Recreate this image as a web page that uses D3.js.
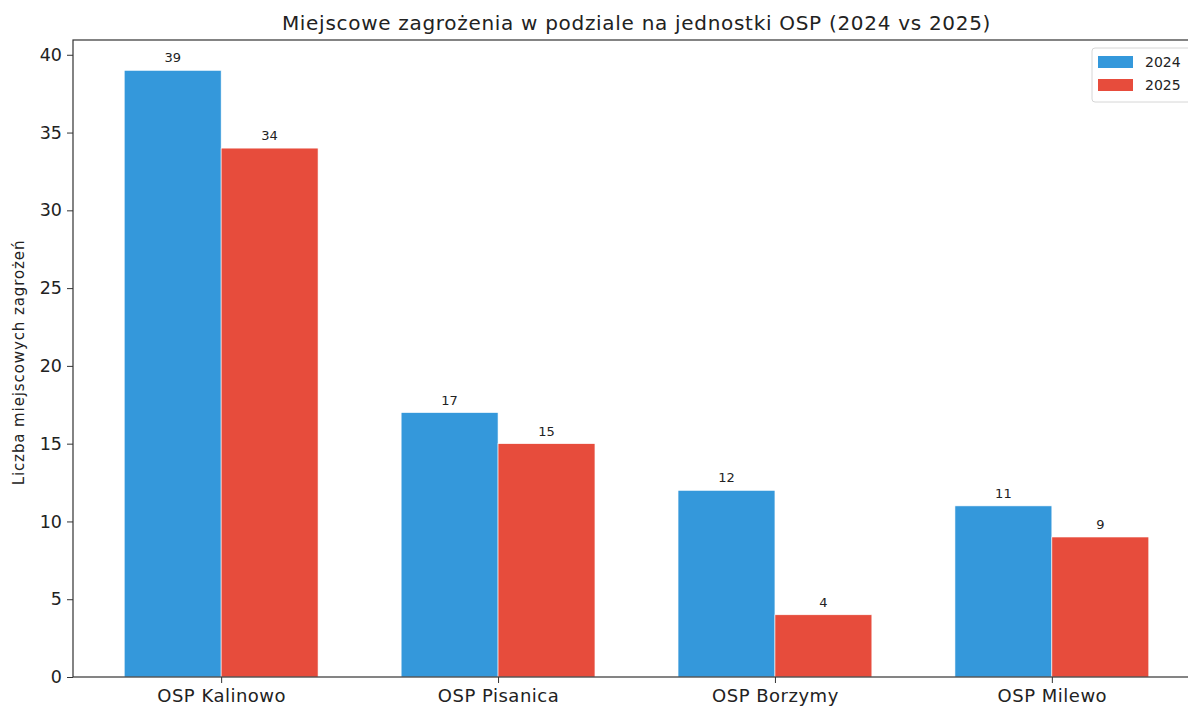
<!DOCTYPE html>
<html>
<head>
<meta charset="utf-8">
<script src="https://cdn.jsdelivr.net/npm/d3@7"></script>
<style>
  body { margin: 0; background: #fff; }
  svg { display: block; font-family: "DejaVu Sans", sans-serif; }
</style>
</head>
<body>
<script>
// data
const categories = ['OSP Kalinowo', 'OSP Pisanica', 'OSP Borzymy', 'OSP Milewo'];
const values2024 = [39, 17, 12, 11];
const values2025 = [34, 15, 4, 9];
const seriesNames = ['2024', '2025'];
const yTicks = [0, 5, 10, 15, 20, 25, 30, 35, 40];

const W = 1188, H = 707;
const plot = { left: 73, right: 1200, top: 40, bottom: 677 };
const barW = 0.35;
const colors = ['#3498db', '#e74c3c'];

const svg = d3.select('body').append('svg')
  .attr('width', W)
  .attr('height', H);

const x = d3.scaleLinear()
  .domain([-0.535, categories.length - 1 + 0.535])
  .range([plot.left, plot.right]);
const y = d3.scaleLinear()
  .domain([0, 39 * 1.05])
  .range([plot.bottom, plot.top]);

// bars
const series = [values2024, values2025];
series.forEach((vals, s) => {
  const off = s === 0 ? -barW : 0;
  const g = svg.append('g');
  g.selectAll('rect')
    .data(vals)
    .enter()
    .append('rect')
    .attr('x', (d, i) => x(i + off))
    .attr('width', (d, i) => x(i + off + barW) - x(i + off))
    .attr('y', d => y(d))
    .attr('height', d => y(0) - y(d))
    .attr('fill', colors[s])
    .attr('stroke', '#fff')
    .attr('stroke-width', 0.6);
  g.selectAll('text')
    .data(vals)
    .enter()
    .append('text')
    .attr('x', (d, i) => x(i + off + barW / 2))
    .attr('y', d => y(d) - 8)
    .attr('text-anchor', 'middle')
    .attr('font-size', 13)
    .attr('fill', '#222')
    .text(d => d);
});

// axes
const yAxis = d3.axisLeft(y).tickValues(yTicks).tickSize(6).tickPadding(5);
const gy = svg.append('g')
  .attr('transform', `translate(${plot.left},0)`)
  .call(yAxis)
  .attr('font-family', null);
gy.select('.domain').remove();
gy.selectAll('.tick line').attr('stroke', '#333');
gy.selectAll('.tick text').attr('font-size', 17.5).attr('fill', '#222');

const xAxis = d3.axisBottom(x)
  .tickValues(d3.range(categories.length))
  .tickFormat(i => categories[i])
  .tickSize(6).tickPadding(6);
const gx = svg.append('g')
  .attr('transform', `translate(0,${plot.bottom})`)
  .call(xAxis)
  .attr('font-family', null);
gx.select('.domain').remove();
gx.selectAll('.tick line').attr('stroke', '#333');
gx.selectAll('.tick text')
  .attr('font-size', 18)
  .attr('letter-spacing', 0.5)
  .attr('fill', '#222');

// spines
svg.append('rect')
  .attr('x', plot.left)
  .attr('y', plot.top)
  .attr('width', plot.right - plot.left)
  .attr('height', plot.bottom - plot.top)
  .attr('fill', 'none')
  .attr('stroke', '#333')
  .attr('stroke-width', 1.2);

// title and y label
svg.append('text')
  .attr('x', (plot.left + plot.right) / 2)
  .attr('y', 30)
  .attr('text-anchor', 'middle')
  .attr('font-size', 20)
  .attr('letter-spacing', 0.7)
  .attr('fill', '#222')
  .text('Miejscowe zagrożenia w podziale na jednostki OSP (2024 vs 2025)');

svg.append('text')
  .attr('transform', `translate(24,${(plot.top + plot.bottom) / 2 + 4}) rotate(-90)`)
  .attr('text-anchor', 'middle')
  .attr('font-size', 15)
  .attr('letter-spacing', 0.9)
  .attr('fill', '#222')
  .text('Liczba miejscowych zagrożeń');

// legend
const lg = svg.append('g').attr('transform', 'translate(1092,48)');
lg.append('rect')
  .attr('width', 110).attr('height', 54)
  .attr('rx', 3)
  .attr('fill', '#fff').attr('fill-opacity', 0.8)
  .attr('stroke', '#d6d6d6');
seriesNames.forEach((name, i) => {
  lg.append('rect')
    .attr('x', 6).attr('y', 8 + i * 23)
    .attr('width', 35).attr('height', 12)
    .attr('fill', colors[i]);
  lg.append('text')
    .attr('x', 53).attr('y', 19 + i * 23)
    .attr('font-size', 14)
    .attr('fill', '#222')
    .text(name);
});
</script>
</body>
</html>
